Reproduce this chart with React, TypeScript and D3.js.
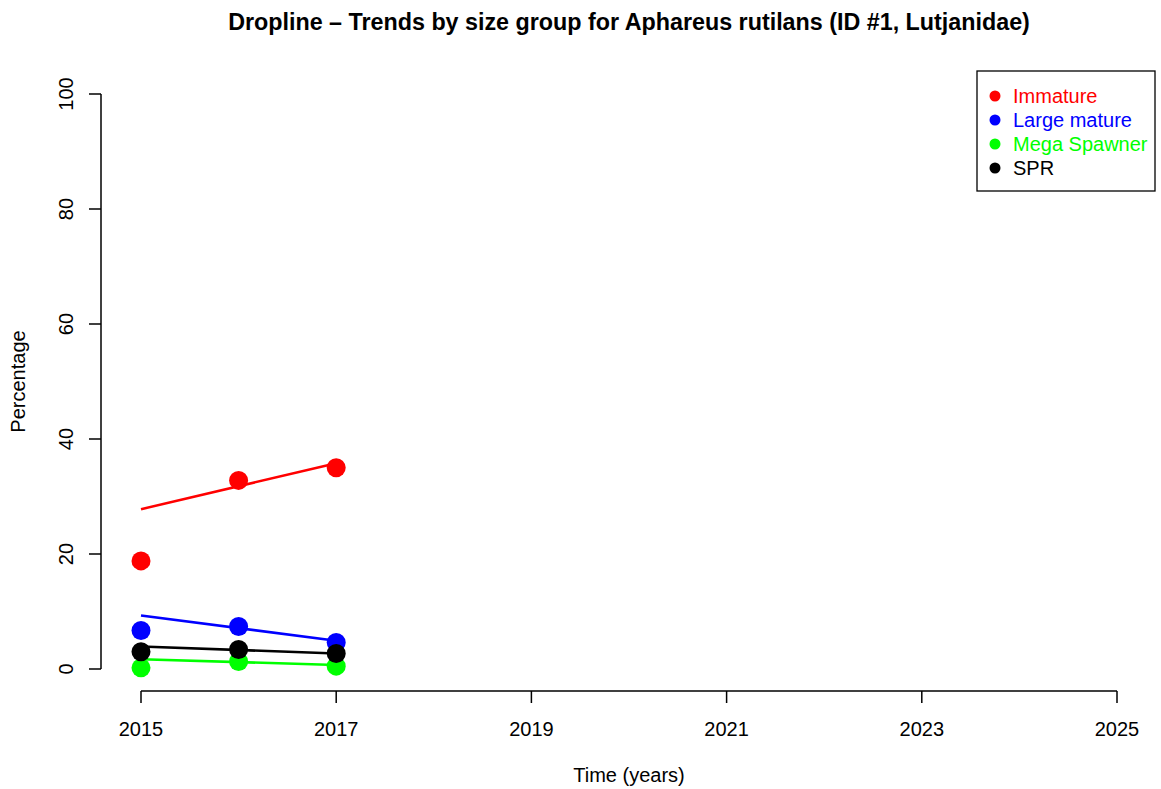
import React from "react";
import * as d3 from "d3";

const years = [2015, 2016, 2017];
const trendYears = [2015, 2017];
const immature = [18.8, 32.8, 35.0];
const largeMature = [6.7, 7.4, 4.6];
const megaSpawner = [0.2, 1.3, 0.5];
const spr = [3.0, 3.4, 2.7];
const immatureTrend = [27.8, 35.8];
const largeMatureTrend = [9.3, 4.9];
const megaSpawnerTrend = [1.7, 0.7];
const sprTrend = [3.9, 2.7];
const groupNames = ["Immature", "Large mature", "Mega Spawner", "SPR"];
const groupColors = ["#FF0000", "#0000FF", "#00FF00", "#000000"];
const xTicks = [2015, 2017, 2019, 2021, 2023, 2025];
const yTicks = [0, 20, 40, 60, 80, 100];

const W = 1161;
const H = 789;
const FONT = "'Liberation Sans', Arial, Helvetica, sans-serif";
const FS = 20;

export default function App() {
  const x = d3.scaleLinear().domain([2015, 2025]).range([141, 1117]);
  const y = d3.scaleLinear().domain([0, 100]).range([669, 94]);
  const line = d3
    .line<[number, number]>()
    .x((d) => x(d[0]))
    .y((d) => y(d[1]));

  const series = [
    { pts: immature, trend: immatureTrend },
    { pts: largeMature, trend: largeMatureTrend },
    { pts: megaSpawner, trend: megaSpawnerTrend },
    { pts: spr, trend: sprTrend },
  ];

  const axisY = 691;
  const axisX = 101;

  return (
    <svg
      width={W}
      height={H}
      style={{ position: "absolute", left: 0, top: 0, background: "#fff" }}
      fontFamily={FONT}
    >
      <rect x={0} y={0} width={W} height={H} fill="#fff" />
      <text x={629} y={30} textAnchor="middle" fontWeight="bold" fontSize={23.3}>
        Dropline – Trends by size group for Aphareus rutilans (ID #1, Lutjanidae)
      </text>

      {/* x axis */}
      <line x1={x(2015)} x2={x(2025)} y1={axisY} y2={axisY} stroke="#000" strokeWidth={1.5} />
      {xTicks.map((t) => (
        <g key={t}>
          <line x1={x(t)} x2={x(t)} y1={axisY} y2={axisY + 12} stroke="#000" strokeWidth={1.5} />
          <text x={x(t)} y={736} textAnchor="middle" fontSize={FS}>
            {t}
          </text>
        </g>
      ))}
      <text x={629} y={782} textAnchor="middle" fontSize={FS}>
        Time (years)
      </text>

      {/* y axis */}
      <line x1={axisX} x2={axisX} y1={y(0)} y2={y(100)} stroke="#000" strokeWidth={1.5} />
      {yTicks.map((t) => (
        <g key={t}>
          <line x1={axisX - 12} x2={axisX} y1={y(t)} y2={y(t)} stroke="#000" strokeWidth={1.5} />
          <text
            transform={`translate(73,${y(t)}) rotate(-90)`}
            textAnchor="middle"
            fontSize={FS}
          >
            {t}
          </text>
        </g>
      ))}
      <text
        transform={`translate(25,381.5) rotate(-90)`}
        textAnchor="middle"
        fontSize={FS}
      >
        Percentage
      </text>

      {/* data */}
      {series.map((s, i) => (
        <g key={i}>
          <path
            d={line(trendYears.map((yr, j) => [yr, s.trend[j]] as [number, number])) || ""}
            fill="none"
            stroke={groupColors[i]}
            strokeWidth={2.6}
          />
          {s.pts.map((v, j) => (
            <circle key={j} cx={x(years[j])} cy={y(v)} r={9.5} fill={groupColors[i]} />
          ))}
        </g>
      ))}

      {/* legend */}
      <rect x={977} y={71} width={178} height={120} fill="#fff" stroke="#000" strokeWidth={1.3} />
      {groupNames.map((n, i) => (
        <g key={n}>
          <circle cx={995} cy={96 + i * 24} r={5.5} fill={groupColors[i]} />
          <text x={1013} y={103 + i * 24} fontSize={FS} fill={groupColors[i]}>
            {n}
          </text>
        </g>
      ))}
    </svg>
  );
}
